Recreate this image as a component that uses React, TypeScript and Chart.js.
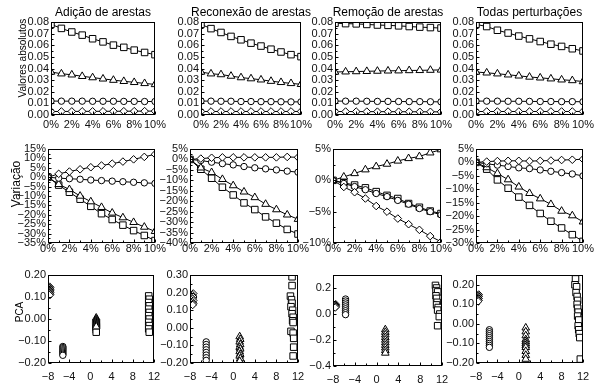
import React, { useEffect, useRef } from "react";
import { Chart, registerables } from "chart.js";
Chart.register(...registerables);

const FONT = '"Liberation Sans", Arial, Helvetica, sans-serif';

// ---------------- data ----------------
const perturbation = [0, 1, 2, 3, 4, 5, 6, 7, 8, 9, 10];
const pctTicks = [0, 2, 4, 6, 8, 10];
const pcaXTicks = [-8, -4, 0, 4, 8, 12];
const absTicks = [0, 0.01, 0.02, 0.03, 0.04, 0.05, 0.06, 0.07, 0.08];

const titles = ["Adição de arestas", "Reconexão de arestas", "Remoção de arestas", "Todas perturbações"];
const rowTitles = ["Valores absolutos", "Variação", "PCA"];

// Row 1: absolute values
const absAddSquares = [0.078, 0.0745, 0.0714, 0.0687, 0.0656, 0.0629, 0.0601, 0.0582, 0.0558, 0.0538, 0.0519];
const absAddTriangles = [0.037, 0.0355, 0.0346, 0.0333, 0.0322, 0.0311, 0.03, 0.029, 0.0281, 0.0272, 0.0263];
const absAddCircles = [0.012, 0.0119, 0.0119, 0.0119, 0.0118, 0.0118, 0.0118, 0.0117, 0.0117, 0.0116, 0.0116];
const absAddDiamonds = [0.003, 0.00305, 0.00309, 0.00312, 0.00315, 0.00318, 0.00321, 0.00325, 0.00329, 0.00333, 0.00336];

const absRecSquares = [0.078, 0.0743, 0.071, 0.0676, 0.0647, 0.0618, 0.0593, 0.0566, 0.0542, 0.0519, 0.0502];
const absRecTriangles = [0.037, 0.0355, 0.0348, 0.0335, 0.0322, 0.0313, 0.0303, 0.0291, 0.0281, 0.0272, 0.0264];
const absRecCircles = [0.012, 0.0119, 0.0118, 0.0118, 0.0116, 0.0116, 0.0115, 0.0115, 0.0114, 0.0113, 0.0113];
const absRecDiamonds = [0.003, 0.00302, 0.00302, 0.00303, 0.00303, 0.00303, 0.00303, 0.00303, 0.00303, 0.00304, 0.00303];

const absRemSquares = [0.079, 0.0786, 0.0784, 0.0779, 0.0774, 0.0771, 0.0767, 0.0761, 0.0756, 0.0752, 0.0748];
const absRemTriangles = [0.037, 0.0372, 0.0374, 0.0376, 0.0378, 0.038, 0.0381, 0.0383, 0.0384, 0.0386, 0.0388];
const absRemCircles = [0.012, 0.0119, 0.0119, 0.0118, 0.0117, 0.0117, 0.0116, 0.0115, 0.0115, 0.0114, 0.0113];
const absRemDiamonds = [0.003, 0.00297, 0.00294, 0.00291, 0.00287, 0.00285, 0.00282, 0.00279, 0.00276, 0.00273, 0.0027];

const absAllSquares = [0.078, 0.0761, 0.0729, 0.0705, 0.0679, 0.0655, 0.0632, 0.0609, 0.059, 0.057, 0.0551];
const absAllTriangles = [0.037, 0.0363, 0.0355, 0.0346, 0.0337, 0.0327, 0.032, 0.0312, 0.0303, 0.0297, 0.0288];
const absAllCircles = [0.012, 0.0119, 0.0119, 0.0118, 0.0118, 0.0117, 0.0116, 0.0116, 0.0115, 0.0115, 0.0114];
const absAllDiamonds = [0.003, 0.00301, 0.00302, 0.00302, 0.00302, 0.00302, 0.00302, 0.00302, 0.00303, 0.00303, 0.00304];

// Row 2: variation (%)
const varAddSquares = [0, -4.2, -8, -11.7, -15.5, -19.4, -22.5, -25.5, -28.4, -31, -33.7];
const varAddTriangles = [0, -3.8, -6.5, -10, -13, -16, -19, -21.5, -24, -26.5, -28.8];
const varAddCircles = [0, -0.5, -0.8, -1.1, -1.5, -1.8, -2.1, -2.4, -2.7, -3, -3.3];
const varAddDiamonds = [0, 1.8, 3, 4.2, 5.3, 6.2, 7.2, 8.3, 9.5, 10.8, 12.2];

const varRecSquares = [0, -4.7, -9, -13.3, -17, -20.8, -24, -27.5, -30.5, -33.5, -35.7];
const varRecTriangles = [0, -4, -6.2, -9.5, -12.5, -15.5, -18.2, -21.4, -24, -26.5, -28.6];
const varRecCircles = [0, -0.5, -1.3, -2, -2.6, -3.4, -4, -4.5, -5, -5.6, -6.1];
const varRecDiamonds = [0, 0.4, 0.8, 1, 1, 1, 1, 1, 1, 1.2, 1];

const varRemSquares = [0, -0.4, -0.75, -1.2, -1.8, -2.4, -2.9, -3.7, -4.3, -4.9, -5.3];
const varRemTriangles = [0, 0.55, 1.1, 1.7, 2.2, 2.6, 3.1, 3.5, 3.8, 4.4, 4.9];
const varRemCircles = [0, -0.5, -1, -1.5, -2.1, -2.6, -3.2, -3.8, -4.5, -5, -5.5];
const varRemDiamonds = [0, -1.06, -1.9, -2.9, -4.1, -5, -6.1, -7, -7.9, -8.9, -9.8];

const varAllSquares = [0, -2.5, -6.5, -9.6, -12.9, -16, -19, -21.9, -24.4, -26.9, -29.4];
const varAllTriangles = [0, -1.9, -4.1, -6.4, -9.1, -11.5, -13.5, -15.6, -18.1, -19.8, -22.1];
const varAllCircles = [0, -0.5, -1, -1.5, -2, -2.3, -2.8, -3.3, -3.8, -4.3, -5];
const varAllDiamonds = [0, 0.3, 0.5, 0.6, 0.6, 0.5, 0.6, 0.7, 0.9, 1, 1.2];

// Row 3: PCA
const pcaAddDiaX = [-7.7, -7.6, -7.7, -7.6, -7.7, -7.6, -7.7, -7.6, -7.7, -7.6, -7.7];
const pcaAddDiaY = [0.147, 0.143, 0.139, 0.135, 0.131, 0.128, 0.124, 0.12, 0.116, 0.112, 0.108];
const pcaAddCirX = [-5.2, -5.2, -5.2, -5.2, -5.2, -5.2, -5.2, -5.2, -5.2];
const pcaAddCirY = [-0.125, -0.13, -0.135, -0.14, -0.145, -0.15, -0.155, -0.16, -0.165];
const pcaAddTriX = [1.1, 1.1, 1.1, 1.1, 1.1, 1.1, 1.1, 1.1, 1.1];
const pcaAddTriY = [0.005, 0, -0.005, -0.01, -0.015, -0.02, -0.025, -0.03, -0.035];
const pcaAddSqX = [1.1, 1.1, 1.1, 11.0, 11.1, 11.0, 11.1, 11.0, 11.1, 11.0, 11.1, 11.0, 11.1, 11.0, 11.1];
const pcaAddSqY = [-0.04, -0.05, -0.06, 0.105, 0.09, 0.075, 0.06, 0.045, 0.03, 0.015, 0, -0.015, -0.03, -0.045, -0.06];

const pcaRecDiaX = [-7.4, -7.5, -7.4, -7.5, -7.4, -7.5, -7.4, -7.5];
const pcaRecDiaY = [0.195, 0.185, 0.175, 0.165, 0.155, 0.145, 0.137, 0.13];
const pcaRecCirX = [-5.0, -5.0, -5.0, -5.0, -5.0, -5.0, -5.0, -5.0];
const pcaRecCirY = [-0.08, -0.095, -0.11, -0.125, -0.14, -0.155, -0.17, -0.185];
const pcaRecTriX = [1.2, 1.3, 1.2, 1.3, 1.2, 1.3, 1.2, 1.3, 1.2, 1.3, 1.2];
const pcaRecTriY = [-0.05, -0.065, -0.08, -0.095, -0.11, -0.12, -0.135, -0.15, -0.16, -0.175, -0.19];
const pcaRecSqX = [10.9, 10.9, 10.6, 10.8, 10.9, 10.7, 11.0, 10.9, 11.1, 11.0, 11.1, 10.7, 11.1, 11.2, 11.2, 11.1];
const pcaRecSqY = [0.29, 0.24, 0.18, 0.16, 0.14, 0.12, 0.1, 0.08, 0.06, 0.04, 0.03, -0.02, -0.03, -0.06, -0.11, -0.16];

const pcaRemDiaX = [-7.5, -7.6, -7.5, -7.6, -7.5, -7.6];
const pcaRemDiaY = [0.075, 0.07, 0.065, 0.06, 0.055, 0.05];
const pcaRemCirX = [-5.7, -5.7, -5.7, -5.7, -5.7, -5.7, -5.7, -5.7, -5.7];
const pcaRemCirY = [0.115, 0.1, 0.085, 0.07, 0.055, 0.04, 0.025, 0.01, -0.005];
const pcaRemTriX = [1.6, 1.6, 1.6, 1.6, 1.6, 1.6, 1.6, 1.6, 1.6, 1.6];
const pcaRemTriY = [-0.12, -0.14, -0.16, -0.18, -0.2, -0.22, -0.24, -0.26, -0.28, -0.3];
const pcaRemSqX = [10.8, 11.0, 10.9, 11.2, 10.9, 11.0, 11.1, 11.0, 11.3, 11.2, 11.6, 11.5, 11.2];
const pcaRemSqY = [0.22, 0.2, 0.18, 0.17, 0.14, 0.12, 0.09, 0.07, 0.05, 0.03, 0, -0.02, -0.09];

const pcaAllDiaX = [-7.5, -7.6, -7.5, -7.6, -7.5, -7.6, -7.5, -7.6];
const pcaAllDiaY = [0.15, 0.145, 0.14, 0.135, 0.13, 0.125, 0.12, 0.115];
const pcaAllCirX = [-5.5, -5.5, -5.5, -5.5, -5.5, -5.5, -5.5, -5.5, -5.5, -5.5];
const pcaAllCirY = [-0.03, -0.04, -0.05, -0.06, -0.07, -0.08, -0.09, -0.1, -0.11, -0.12];
const pcaAllTriX = [1.3, 1.3, 1.3, 1.3, 1.3, 1.3, 1.3, 1.3, 1.3, 1.3, 1.3];
const pcaAllTriY = [-0.02, -0.04, -0.06, -0.08, -0.09, -0.1, -0.11, -0.12, -0.14, -0.16, -0.18];
const pcaAllSqX = [10.6, 10.5, 10.8, 10.7, 10.9, 11.0, 10.9, 11.0, 11.1, 11.0, 11.2, 11.1, 11.2, 11.3, 11.4, 11.5];
const pcaAllSqY = [0.23, 0.2, 0.19, 0.16, 0.14, 0.12, 0.1, 0.08, 0.06, 0.04, 0.02, -0.01, -0.03, -0.05, -0.07, -0.18];

// ---------------- helpers ----------------
type Style = "rect" | "triangle" | "circle" | "rectRot";
interface Series { style: Style; xs: number[]; ys: number[] }
interface Label { text: string; x: number; y: number; size: number; rotate: boolean }
interface PanelSpec {
  box: [number, number, number, number];
  padL: number; padT: number; padR: number; padB: number;
  labels: Label[];
  series: Series[];
  showLine: boolean;
  xMin: number; xMax: number; xTicks: number[]; xFmt: (v: number) => string; xPad: number;
  yMin: number; yMax: number; yTicks: number[]; yFmt: (v: number) => string;
}

const RADIUS: Record<Style, number> = { rect: 4.6, triangle: 4.4, circle: 3.2, rectRot: 3.8 };
const minus = (s: string) => s.replace("-", "\u2212");
const fmtPct = (v: number) => minus(`${Math.round(v)}%`);
const fmtPlainPct = (v: number) => `${Math.round(v)}%`;
const fmt2 = (v: number) => minus((Math.abs(v) < 1e-9 ? 0 : v).toFixed(2));
const fmt1 = (v: number) => minus((Math.abs(v) < 1e-9 ? 0 : v).toFixed(1));
const fmtInt = (v: number) => minus(`${Math.round(v)}`);
const range = (a: number, b: number, st: number) => {
  const out: number[] = [];
  for (let v = a; v <= b + 1e-9; v += st) out.push(Math.round(v * 1000) / 1000);
  return out;
};

const framePlugin = {
  id: "frame",
  afterDatasetsDraw(chart: any) {
    const { ctx, chartArea: a, scales } = chart;
    const l = Math.round(a.left) + 0.5, r = Math.round(a.right) - 0.5;
    const t = Math.round(a.top) + 0.5, b = Math.round(a.bottom) - 0.5;
    ctx.save();
    ctx.strokeStyle = "#000";
    ctx.lineWidth = 1;
    ctx.beginPath();
    const xs = scales.x.ticks.map((tk: any) => tk.value);
    for (let i = 0; i < xs.length; i++) {
      const p = Math.round(scales.x.getPixelForValue(xs[i])) + 0.5;
      ctx.moveTo(p, b); ctx.lineTo(p, b - 3);
      if (i < xs.length - 1) {
        const m = Math.round(scales.x.getPixelForValue((xs[i] + xs[i + 1]) / 2)) + 0.5;
        ctx.moveTo(m, b); ctx.lineTo(m, b - 2);
      }
    }
    const ys = scales.y.ticks.map((tk: any) => tk.value);
    for (let i = 0; i < ys.length; i++) {
      const p = Math.round(scales.y.getPixelForValue(ys[i])) + 0.5;
      ctx.moveTo(l, p); ctx.lineTo(l + 3, p);
      if (i < ys.length - 1) {
        const m = Math.round(scales.y.getPixelForValue((ys[i] + ys[i + 1]) / 2)) + 0.5;
        ctx.moveTo(l, m); ctx.lineTo(l + 2, m);
      }
    }
    ctx.stroke();
    ctx.strokeRect(l, t, r - l, b - t);
    ctx.restore();
  },
};

// draws the panel title and row title text at given canvas positions
const labelsPlugin = (labels: Label[]) => ({
  id: "panelLabels",
  afterDraw(chart: any) {
    const ctx = chart.ctx;
    for (const lb of labels) {
      ctx.save();
      ctx.font = `${lb.size}px ${FONT}`;
      ctx.fillStyle = "#000";
      ctx.textAlign = "center";
      ctx.textBaseline = "middle";
      ctx.translate(lb.x, lb.y);
      if (lb.rotate) ctx.rotate(-Math.PI / 2);
      ctx.fillText(lb.text, 0, 0);
      ctx.restore();
    }
  },
});

function makeConfig(s: PanelSpec, offX: number, offY: number): any {
  const tickFont = { family: FONT, size: 11 };
  const local = s.labels.map((lb) => ({ ...lb, x: lb.x - offX, y: lb.y - offY }));
  return {
    type: "scatter",
    data: {
      datasets: s.series.map((ser) => ({
        data: ser.xs.map((x, i) => ({ x, y: ser.ys[i] })),
        showLine: s.showLine,
        borderColor: "#000",
        borderWidth: 1,
        backgroundColor: "#fff",
        pointStyle: ser.style,
        pointRadius: RADIUS[ser.style],
        pointHoverRadius: RADIUS[ser.style],
        pointBackgroundColor: "#fff",
        pointBorderColor: "#000",
        pointBorderWidth: 1,
        tension: 0,
        clip: 0,
      })),
    },
    options: {
      animation: false,
      responsive: false,
      events: [],
      layout: { autoPadding: false, padding: { left: 0, top: s.padT, right: s.padR, bottom: 0 } },
      plugins: { legend: { display: false }, tooltip: { enabled: false }, title: { display: false } },
      scales: {
        x: {
          type: "linear",
          position: "bottom",
          min: s.xMin,
          max: s.xMax,
          afterBuildTicks: (sc: any) => { sc.ticks = s.xTicks.map((v) => ({ value: v })); },
          afterFit: (sc: any) => { sc.height = s.padB; sc.paddingLeft = 0; sc.paddingRight = 0; },
          grid: { display: false, drawTicks: false },
          border: { display: false },
          ticks: { font: tickFont, color: "#111", padding: s.xPad, maxRotation: 0, minRotation: 0, autoSkip: false, callback: (v: any) => s.xFmt(Number(v)) },
        },
        y: {
          type: "linear",
          position: "left",
          min: s.yMin,
          max: s.yMax,
          afterBuildTicks: (sc: any) => { sc.ticks = s.yTicks.map((v) => ({ value: v })); },
          afterFit: (sc: any) => { sc.width = s.padL; sc.paddingTop = 0; sc.paddingBottom = 0; },
          grid: { display: false, drawTicks: false },
          border: { display: false },
          ticks: { font: tickFont, color: "#111", padding: 2, autoSkip: false, callback: (v: any) => s.yFmt(Number(v)) },
        },
      },
    },
    plugins: [framePlugin, labelsPlugin(local)],
  };
}

function Panel({ spec }: { spec: PanelSpec }) {
  const ref = useRef<HTMLCanvasElement | null>(null);
  const [l, t, r, b] = spec.box;
  const W = r - l + spec.padL + spec.padR;
  const H = b - t + spec.padT + spec.padB;
  const offX = l - spec.padL;
  const offY = t - spec.padT;
  useEffect(() => {
    const chart = new Chart(ref.current as HTMLCanvasElement, makeConfig(spec, offX, offY));
    return () => chart.destroy();
  }, [spec]);
  return (
    <canvas
      ref={ref}
      width={W}
      height={H}
      style={{ position: "absolute", left: offX, top: offY, width: W, height: H }}
    />
  );
}

const sq = (xs: number[], ys: number[]): Series => ({ style: "rect", xs, ys });
const tr = (xs: number[], ys: number[]): Series => ({ style: "triangle", xs, ys });
const ci = (xs: number[], ys: number[]): Series => ({ style: "circle", xs, ys });
const di = (xs: number[], ys: number[]): Series => ({ style: "rectRot", xs, ys });

const row1Boxes: [number, number, number, number][] = [[51, 22, 155, 115], [201, 22, 301, 115], [335, 22, 441, 115], [476, 22, 583, 115]];
const row2Boxes: [number, number, number, number][] = [[48, 149, 155, 243], [190, 149, 298, 243], [333, 149, 441, 243], [476, 149, 583, 243]];
const row3Boxes: [number, number, number, number][] = [[48, 275, 154, 363], [190, 275, 298, 363], [333, 275, 442, 366], [476, 275, 583, 363]];

const absSeries = [
  [absAddDiamonds, absAddCircles, absAddTriangles, absAddSquares],
  [absRecDiamonds, absRecCircles, absRecTriangles, absRecSquares],
  [absRemDiamonds, absRemCircles, absRemTriangles, absRemSquares],
  [absAllDiamonds, absAllCircles, absAllTriangles, absAllSquares],
];
const varSeries = [
  [varAddDiamonds, varAddCircles, varAddTriangles, varAddSquares],
  [varRecDiamonds, varRecCircles, varRecTriangles, varRecSquares],
  [varRemDiamonds, varRemCircles, varRemTriangles, varRemSquares],
  [varAllDiamonds, varAllCircles, varAllTriangles, varAllSquares],
];
const varRanges: [number, number][] = [[-35, 15], [-40, 5], [-10, 5], [-30, 5]];
const pcaSeries = [
  [di(pcaAddDiaX, pcaAddDiaY), ci(pcaAddCirX, pcaAddCirY), tr(pcaAddTriX, pcaAddTriY), sq(pcaAddSqX, pcaAddSqY)],
  [di(pcaRecDiaX, pcaRecDiaY), ci(pcaRecCirX, pcaRecCirY), tr(pcaRecTriX, pcaRecTriY), sq(pcaRecSqX, pcaRecSqY)],
  [di(pcaRemDiaX, pcaRemDiaY), ci(pcaRemCirX, pcaRemCirY), tr(pcaRemTriX, pcaRemTriY), sq(pcaRemSqX, pcaRemSqY)],
  [di(pcaAllDiaX, pcaAllDiaY), ci(pcaAllCirX, pcaAllCirY), tr(pcaAllTriX, pcaAllTriY), sq(pcaAllSqX, pcaAllSqY)],
];
const pcaYRanges: [number, number, number, (v: number) => string][] = [
  [-0.2, 0.2, 0.1, fmt2],
  [-0.2, 0.3, 0.1, fmt2],
  [-0.4, 0.3, 0.2, fmt1],
  [-0.2, 0.25, 0.1, fmt2],
];

const specs: PanelSpec[] = [];
for (let c = 0; c < 4; c++) {
  const [d, o, t, s] = absSeries[c];
  const box = row1Boxes[c];
  const labels: Label[] = [{ text: titles[c], x: (box[0] + box[2]) / 2, y: 13, size: 12, rotate: false }];
  if (c === 0) labels.push({ text: rowTitles[0], x: 23, y: 58, size: 10, rotate: true });
  specs.push({
    box, padL: c === 0 ? box[0] : 50, padT: 22, padR: 14, padB: 22,
    labels,
    series: [di(perturbation, d), ci(perturbation, o), tr(perturbation, t), sq(perturbation, s)],
    showLine: true,
    xMin: 0, xMax: 10, xTicks: pctTicks, xFmt: fmtPlainPct, xPad: 3,
    yMin: 0, yMax: 0.08, yTicks: absTicks, yFmt: fmt2,
  });
}
for (let c = 0; c < 4; c++) {
  const [d, o, t, s] = varSeries[c];
  const [mn, mx] = varRanges[c];
  const box = row2Boxes[c];
  specs.push({
    box, padL: c === 0 ? box[0] : 50, padT: 10, padR: 14, padB: 20,
    labels: c === 0 ? [{ text: rowTitles[1], x: 17, y: 184, size: 12, rotate: true }] : [],
    series: [di(perturbation, d), ci(perturbation, o), tr(perturbation, t), sq(perturbation, s)],
    showLine: true,
    xMin: 0, xMax: 10, xTicks: pctTicks, xFmt: fmtPlainPct, xPad: -1,
    yMin: mn, yMax: mx, yTicks: range(mn, mx, 5), yFmt: fmtPct,
  });
}
for (let c = 0; c < 4; c++) {
  const [mn, mx, st, f] = pcaYRanges[c];
  const box = row3Boxes[c];
  specs.push({
    box, padL: c === 0 ? box[0] : 50, padT: 10, padR: 12, padB: 20,
    labels: c === 0 ? [{ text: rowTitles[2], x: 20, y: 312, size: 10, rotate: true }] : [],
    series: pcaSeries[c],
    showLine: false,
    xMin: -8, xMax: 12, xTicks: pcaXTicks, xFmt: fmtInt, xPad: 7,
    yMin: mn, yMax: mx, yTicks: range(mn, mx, st), yFmt: f,
  });
}

export default function App() {
  return (
    <div style={{ position: "absolute", left: 0, top: 0, width: 605, height: 383, background: "#fff", overflow: "hidden" }}>
      {specs.map((s, i) => (
        <Panel key={i} spec={s} />
      ))}
    </div>
  );
}
